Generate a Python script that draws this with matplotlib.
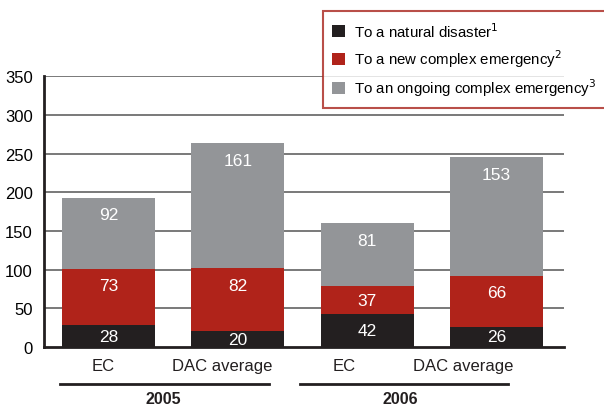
import matplotlib
matplotlib.use("Agg")
import matplotlib.pyplot as plt
from matplotlib.patches import Patch
from matplotlib import font_manager
import numpy as np

# font: condensed look if available
names = set(f.name for f in font_manager.fontManager.ttflist)
fam = "Liberation Sans Narrow" if "Liberation Sans Narrow" in names else "Liberation Sans"
plt.rcParams['font.family'] = [fam, 'DejaVu Sans']

# data
bar_labels = ["EC", "DAC average", "EC", "DAC average"]
years = ["2005", "2006"]
natural = [28, 20, 42, 26]
new_complex = [73, 82, 37, 66]
ongoing = [92, 161, 81, 153]
legend_labels = ["To a natural disaster$^1$",
                 "To a new complex emergency$^2$",
                 "To an ongoing complex emergency$^3$"]

colors = ["#231f20", "#b0231a", "#939598"]

fig = plt.figure(figsize=(6.04, 4.06), dpi=100)
ax = fig.add_axes([0.073, 0.143, 0.86, 0.667])

x = np.arange(len(bar_labels))
w = 0.72
series = [natural, new_complex, ongoing]
bottom = np.zeros(len(x))
for vals, c in zip(series, colors):
    vals = np.array(vals)
    ax.bar(x, vals, w, bottom=bottom, color=c, zorder=3)
    tops = bottom + vals
    for xi, t, v in zip(x, tops, vals):
        ax.text(xi, t - min(22, v / 2), str(v), ha="center", va="center",
                color="white", fontsize=12.5, zorder=4)
    bottom = tops

ax.set_xlim(-0.5, 3.52)
ax.set_ylim(0, 350)
ax.set_yticks(np.arange(0, 351, 50))
ax.tick_params(axis="y", length=0, labelsize=12, pad=8)
ax.set_xticks([])
for yv in np.arange(50, 351, 50):
    ax.axhline(yv, color="#555555", lw=1.1, zorder=1)
for s in ["top", "right"]:
    ax.spines[s].set_visible(False)
ax.spines["left"].set_linewidth(2)
ax.spines["bottom"].set_linewidth(2)
ax.spines["left"].set_color("#231f20")
ax.spines["bottom"].set_color("#231f20")

# category labels under bars (slightly left, as in the original)
label_x = [-0.04, 0.88, 1.82, 2.74]
for lx, lab in zip(label_x, bar_labels):
    ax.text(lx, -0.07, lab, transform=ax.get_xaxis_transform(), ha="center",
            va="center", fontsize=12, color="#231f20")

# year group lines and labels
year_spans = [(-0.38, 1.24), (1.48, 3.09)]
year_x = [0.42, 2.26]
for (a, b), yx, yr in zip(year_spans, year_x, years):
    ax.plot([a, b], [-0.137, -0.137], transform=ax.get_xaxis_transform(),
            color="#231f20", lw=2, clip_on=False)
    ax.text(yx, -0.19, yr, transform=ax.get_xaxis_transform(), ha="center",
            va="center", fontsize=11.5, fontweight="bold", color="#231f20")

handles = [Patch(facecolor=c, edgecolor="none") for c in colors]
leg = fig.legend(handles, legend_labels, loc="upper left",
                 bbox_to_anchor=(0.534, 0.736, 0.47, 0.234), mode="expand",
                 fontsize=10.8, frameon=True, fancybox=False,
                 handlelength=0.85, handleheight=0.85, handletextpad=0.6,
                 labelspacing=0.5, borderpad=0.65, borderaxespad=0)
leg.get_frame().set_edgecolor("#a8231c")
leg.get_frame().set_linewidth(1.5)

fig.savefig("out.png", dpi=100)
